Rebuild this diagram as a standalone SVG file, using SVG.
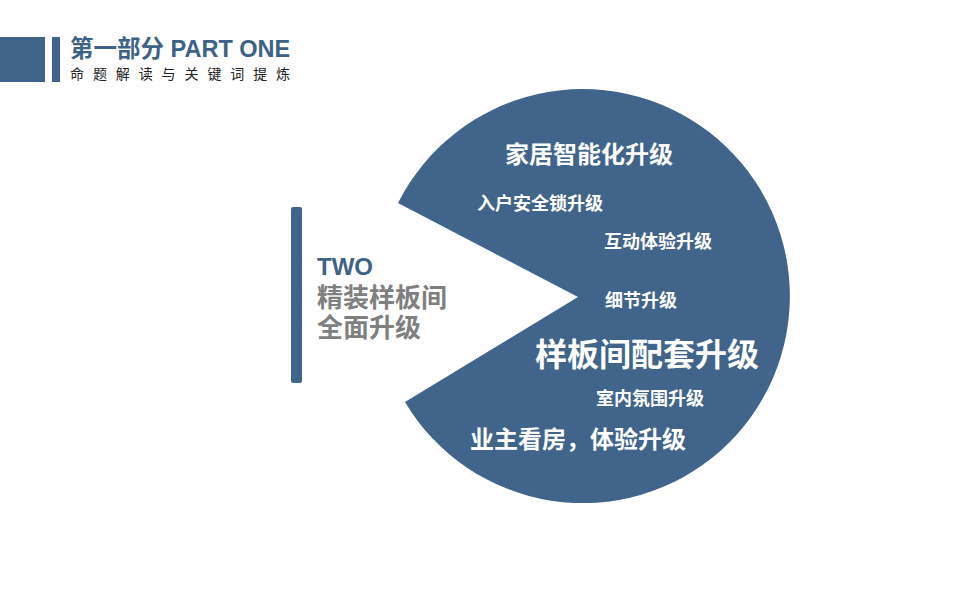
<svg xmlns="http://www.w3.org/2000/svg" width="960" height="600" viewBox="0 0 960 600">
<style>
.blue{fill:#41658A}
.cjk{font-family:"Liberation Sans","Noto Sans CJK SC",sans-serif}
.w{fill:#FFFFFF;font-weight:bold;text-anchor:middle}
</style>
<defs>
<linearGradient id="lineGrad" x1="0" y1="0" x2="1" y2="0">
<stop offset="0" stop-color="#3A5A7A"/>
<stop offset="1" stop-color="#7F9DBA"/>
</linearGradient>
</defs>
<rect width="960" height="600" fill="#FFFFFF"/>
<g id="header">
<rect class="blue" x="0" y="37" width="45" height="45"/>
<rect class="blue" x="52" y="37" width="8" height="45"/>
<text class="cjk" x="70" y="57" font-size="23.5" font-weight="bold" fill="#3D6287">第一部分 PART ONE</text>
<text x="70" y="79" font-size="14" fill="#222222" letter-spacing="8.9" font-family="'Noto Sans CJK SC',sans-serif">命题解读与关键词提炼</text>
</g>
<g id="connectors">
<line x1="0" y1="298" x2="285" y2="298" stroke="url(#lineGrad)" stroke-width="1.2"/>
</g>
<g id="title-node">
<rect class="blue" x="291" y="207" width="11" height="176" rx="2"/>
<text x="317" y="275" font-size="24" font-weight="bold" fill="#3E6387" font-family="'Liberation Sans',sans-serif">TWO</text>
<text class="cjk" x="317" y="307" font-size="26" font-weight="bold" fill="#7F7F7F">精装样板间</text>
<text class="cjk" x="317" y="337" font-size="26" font-weight="bold" fill="#7F7F7F">全面升级</text>
</g>
<g id="pie-node">
<path class="blue" d="M578,297 L398,203 A207,207 0 1 1 405,402 Z"/>
<text class="cjk w" x="589" y="163" font-size="24">家居智能化升级</text>
<text class="cjk w" x="540" y="210" font-size="18">入户安全锁升级</text>
<text class="cjk w" x="658" y="248" font-size="18">互动体验升级</text>
<text class="cjk w" x="641" y="307" font-size="18">细节升级</text>
<text class="cjk w" x="647" y="366" font-size="32">样板间配套升级</text>
<text class="cjk w" x="650" y="405" font-size="18">室内氛围升级</text>
<text class="cjk w" x="578" y="448" font-size="24">业主看房，体验升级</text>
</g>
</svg>
